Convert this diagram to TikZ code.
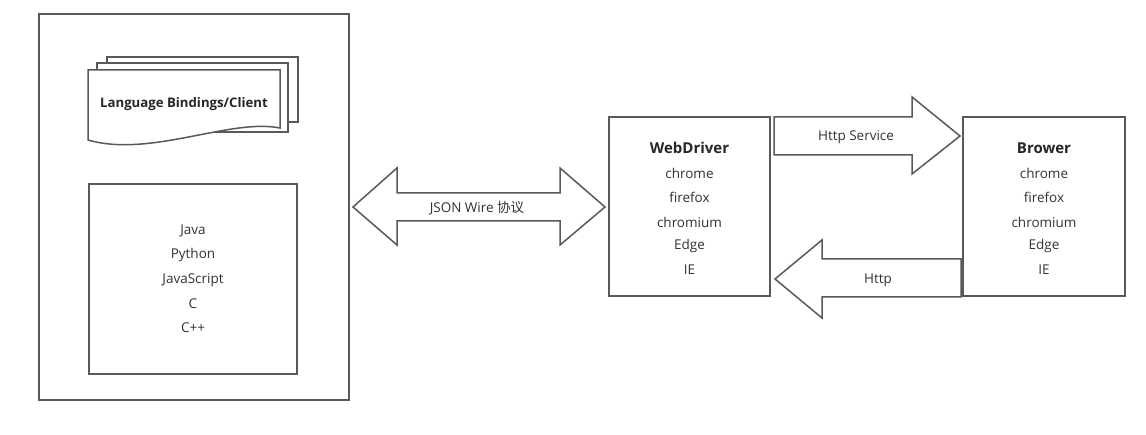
\documentclass[tikz,border=0pt]{standalone}
\usepackage{fontspec}
\setmainfont{Open Sans}
\newfontfamily\cjk{Noto Sans CJK SC}
\definecolor{linegray}{HTML}{595959}
\definecolor{textgray}{HTML}{333333}
\tikzset{
  box/.style={draw=linegray, line width=1.5pt, fill=white, inner sep=0pt},
  blockarrow/.style={draw=linegray, line width=1.5pt, fill=white, line join=miter},
  item/.style={text=textgray, font=\fontsize{13.5}{16}\selectfont, inner sep=0pt},
  heading/.style={text=black!85, font=\fontsize{15}{18}\selectfont\bfseries, inner sep=0pt},
}
\newcommand{\zh}[1]{{\cjk #1}}

\begin{document}
\begin{tikzpicture}[x=1pt,y=-1pt]
    \useasboundingbox (0,0) rectangle (1146,435);
    % client side
    \node[box, minimum width=310pt, minimum height=386pt] (CL) at (194,207) {};
    \draw[box] (107,57) rectangle (298,122);
    \draw[box] (97,63) rectangle (288,132);
    \draw[box] (88,70) -- (280,70) -- (280,128)
      .. controls (230,118) and (150,158) .. (88,140) -- cycle;
    \node[heading, font=\fontsize{13.2}{16}\selectfont\bfseries] (LB) at (184,104) {Language Bindings/Client};
    \node[box, minimum width=208pt, minimum height=190pt] (LG) at (193,279) {};
    \node[item] (Java) at (193,231) {Java};
    \node[item] (Py) at (193,255) {Python};
    \node[item] (JS) at (193,280) {JavaScript};
    \node[item] (C) at (193,304) {C};
    \node[item] (Cpp) at (193,328) {C++};
    % webdriver and browser
    \node[box, minimum width=161pt, minimum height=179pt] (WD) at (689.5,206.5) {};
    \node[box, minimum width=162pt, minimum height=179pt] (BR) at (1044,206.5) {};
    \foreach \cx/\nm/\ttl in {689.5/wd/WebDriver, 1044/br/Brower} {
      \node[heading] (\nm-title) at (\cx,148) {\ttl};
      \node[item] (\nm-chrome) at (\cx,173) {chrome};
      \node[item] (\nm-firefox) at (\cx,197) {firefox};
      \node[item] (\nm-chromium) at (\cx,222) {chromium};
      \node[item] (\nm-edge) at (\cx,246) {Edge};
      \node[item] (\nm-ie) at (\cx,270) {IE};
    }
    % block arrows
    \draw[blockarrow] (353,207) -- (397,168) -- (397,193) -- (560,193) -- (560,168)
      -- (605,207) -- (560,245) -- (560,221) -- (397,221) -- (397,245) -- cycle;
    \node[item] (JW) at (477,208) {JSON Wire \zh{协议}};
    \draw[blockarrow] (774,117) -- (912,117) -- (912,97) -- (960,136)
      -- (912,174) -- (912,155) -- (774,155) -- cycle;
    \node[item] (HS) at (856,137) {Http Service};
    \draw[blockarrow] (775,279) -- (822,240) -- (822,259) -- (961,259)
      -- (961,297) -- (822,297) -- (822,318) -- cycle;
    \node[item] (HT) at (878,280) {Http};
\end{tikzpicture}
\end{document}
